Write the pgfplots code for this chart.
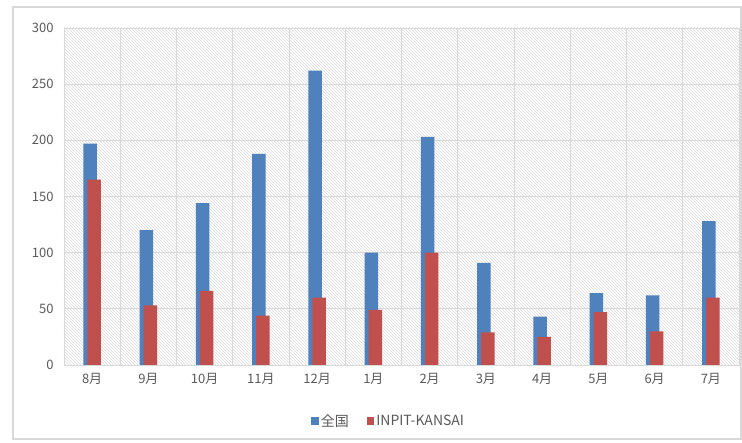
\documentclass[border=0pt]{standalone}
\usepackage{fontspec}
\setmainfont{Noto Sans CJK JP}
\usepackage{pgfplots}
\pgfplotsset{compat=1.18}
\usetikzlibrary{patterns}

\definecolor{zblue}{HTML}{4F81BD}
\definecolor{zred}{HTML}{C0504D}
\definecolor{gridc}{HTML}{D9D9D9}
\definecolor{tickc}{HTML}{595959}

\begin{document}
\begin{tikzpicture}
\path[use as bounding box] (0,0) rectangle (742pt,443pt);
\draw[gridc, line width=1.2pt] (13pt,4pt) rectangle (741pt,436pt);
\begin{axis}[
    at={(64pt,78pt)}, anchor=south west,
    scale only axis,
    width=675pt, height=337pt,
    ybar,
    bar width=13.5pt,
    xmin=-0.5, xmax=11.5,
    ymin=0, ymax=300,
    ytick={0,50,...,300},
    xtick={0,...,11},
    xticklabels={8月,9月,10月,11月,12月,1月,2月,3月,4月,5月,6月,7月},
    minor xtick={-0.5,0.5,...,11.5},
    xminorgrids, ymajorgrids,
    major tick length=0pt, minor tick length=0pt,
    grid style={gridc, line width=0.8pt},
    minor grid style={gridc, line width=0.8pt},
    axis line style={gridc, line width=0.8pt},
    axis background/.style={pattern=north west lines, pattern color=gray!30},
    tick label style={font=\fontsize{13}{14}\selectfont, text=tickc},
    /pgf/number format/assume math mode=true,
    xticklabel style={yshift=-5pt},
    yticklabel style={xshift=-7pt},
    legend style={at={(0.481,-0.166)}, anchor=center, draw=none, fill=none,
        font=\fontsize{14}{15}\selectfont, text=tickc, legend columns=2,
        /tikz/every even column/.append style={column sep=16pt}},
    legend image code/.code={\fill[#1] (-3pt,-3.75pt) rectangle (4.5pt,3.75pt);},
]
\addplot[draw=none, fill=zblue, bar shift=-2pt] coordinates {
    (0,197) (1,120) (2,144) (3,188) (4,262) (5,100)
    (6,203) (7,91) (8,43) (9,64) (10,62) (11,128)};
\addplot[draw=none, fill=zred, bar shift=2pt] coordinates {
    (0,165) (1,53) (2,66) (3,44) (4,60) (5,49)
    (6,100) (7,29) (8,25) (9,47) (10,30) (11,60)};
\legend{全国, INPIT-KANSAI}
\end{axis}
\end{tikzpicture}
\end{document}
